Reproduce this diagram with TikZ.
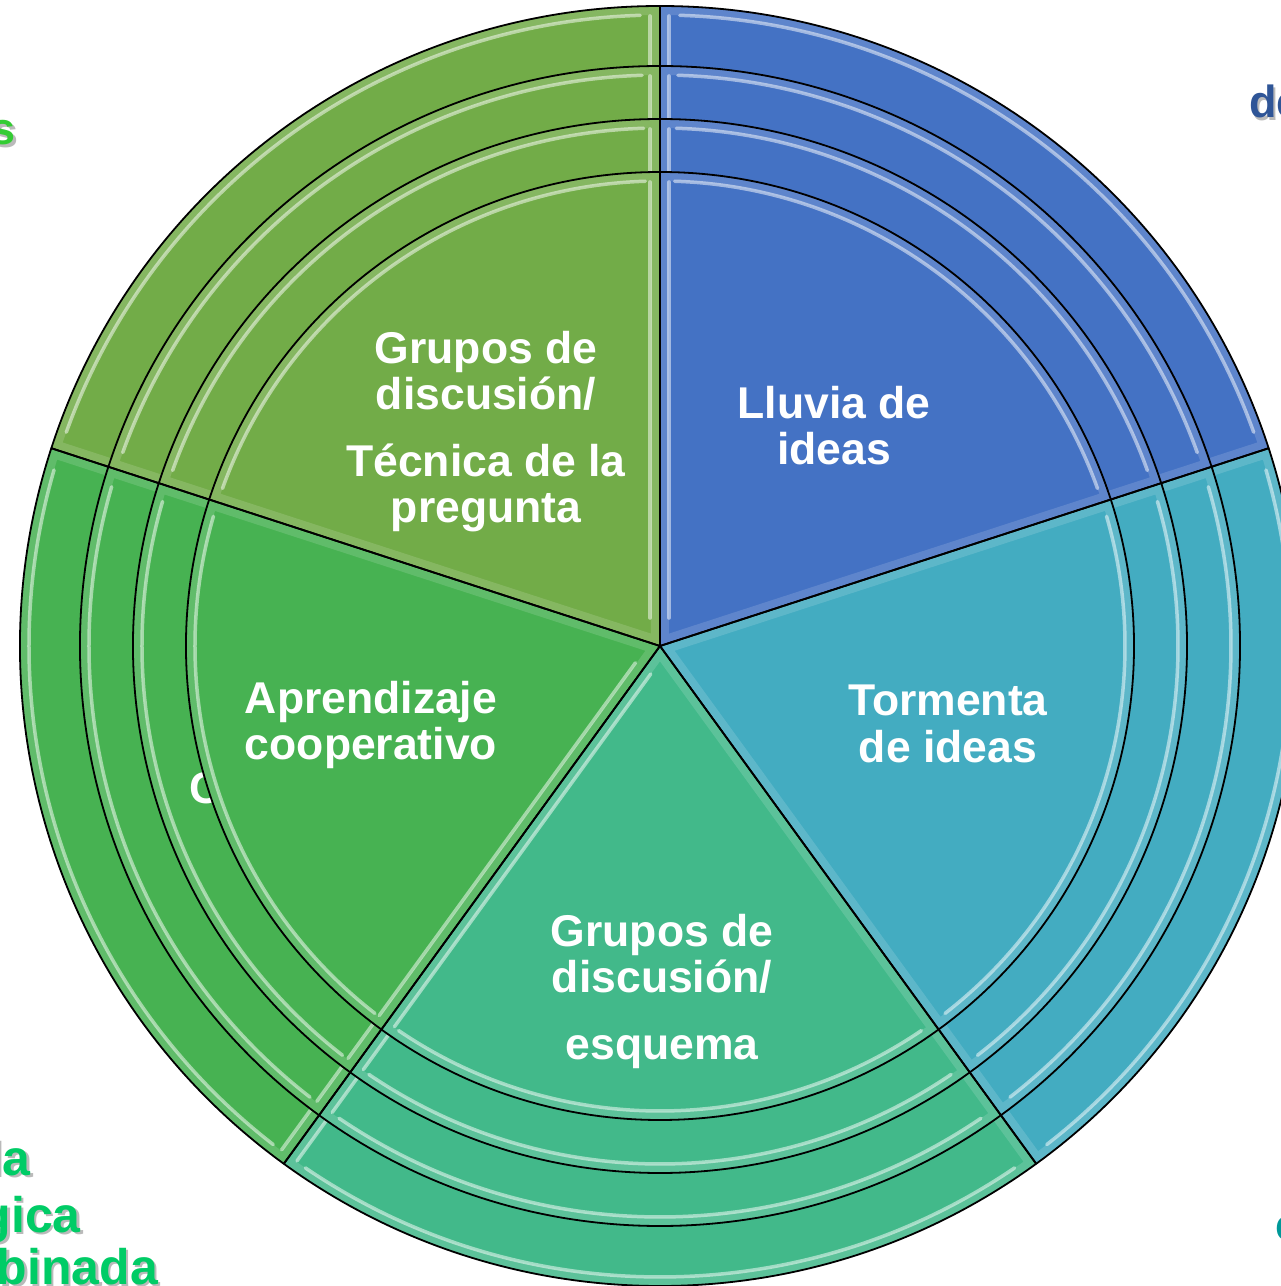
\documentclass[tikz,border=0pt]{standalone}
\usepackage{fontspec}
\setmainfont{Liberation Sans}
\definecolor{cblue}{RGB}{68,114,196}
\definecolor{cteal}{RGB}{67,172,193}
\definecolor{csea}{RGB}{66,185,138}
\definecolor{cgreen}{RGB}{71,178,82}
\definecolor{colive}{RGB}{114,172,72}
\definecolor{tgreen}{RGB}{0,204,102}
\definecolor{tlime}{RGB}{51,204,51}
\definecolor{tblue}{RGB}{47,85,151}
\definecolor{tteal}{RGB}{0,153,153}
\tikzset{
  lbl/.style={text=white,font=\bfseries\fontsize{44.5}{46.5}\selectfont,align=center,inner sep=0pt,anchor=north},
  hid/.style={text=white,font=\bfseries\fontsize{44.5}{46.5}\selectfont,inner sep=0pt},
  outtxt/.style={font=\bfseries\fontsize{45}{47}\selectfont,inner sep=0pt},
  bigtxt/.style={font=\bfseries\fontsize{50}{52}\selectfont,inner sep=0pt},
  shd/.style={text=black!45,opacity=.6},
  edge/.style={draw=black,line width=1.8pt,line join=round},
  stripe/.style={white,opacity=.5,line width=3.5pt,line cap=round},
}
\newcommand\pieslice[4]{%
  \fill[#4] (0,0) -- (#2:#1) arc[start angle=#2,end angle=#3,radius=#1] -- cycle;
  \begin{scope}
    \clip (0,0) -- (#2:#1) arc[start angle=#2,end angle=#3,radius=#1] -- cycle;
    \draw[white,opacity=.14,line width=18pt] (0,0) -- (#2:#1) arc[start angle=#2,end angle=#3,radius=#1] -- cycle;
    \draw[stripe] ({#2+1.8}:{#1-9}) arc[start angle={#2+1.8},end angle={#3-1.8},radius={#1-9}];
  \end{scope}}
\newcommand\pieedge[3]{%
  \draw[edge] (0,0) -- (#2:#1) arc[start angle=#2,end angle=#3,radius=#1] -- cycle;}
\newcommand\radstripe[3]{%
  \draw[stripe,rotate=#2] (28,#3) -- ({#1-10},#3);}
\newcommand\pielayer[1]{%
  \pieslice{#1}{18}{90}{cblue}
  \pieslice{#1}{90}{162}{colive}
  \pieslice{#1}{162}{234}{cgreen}
  \pieslice{#1}{234}{306}{csea}
  \pieslice{#1}{-54}{18}{cteal}
  \radstripe{#1}{90}{10}
  \radstripe{#1}{90}{-9}
  \radstripe{#1}{234}{-10}
  \radstripe{#1}{234}{9}
  \pieedge{#1}{18}{90}
  \pieedge{#1}{90}{162}
  \pieedge{#1}{162}{234}
  \pieedge{#1}{234}{306}
  \pieedge{#1}{-54}{18}}
\begin{document}
\begin{tikzpicture}[x=1pt,y=1pt]
\useasboundingbox (-660,-640) rectangle (621,646);
% outside partial texts
\node[outtxt,shd,anchor=base east] (s0) at (-641.5,498.5) {s};
\node[outtxt,text=tlime,anchor=base east] (s1) at (-644,501) {s};
\node[outtxt,shd,anchor=base west] (de0) at (591.5,525.5) {de};
\node[outtxt,text=tblue,anchor=base west] (de1) at (589,528) {de};
\node[bigtxt,shd,anchor=base east] (la0) at (-626.5,-531.5) {la};
\node[bigtxt,text=tgreen,anchor=base east] (la1) at (-629,-529) {la};
\node[bigtxt,shd,anchor=base east] (gi0) at (-576.5,-588.5) {gica};
\node[bigtxt,text=tgreen,anchor=base east] (gi1) at (-579,-586) {gica};
\node[bigtxt,shd,anchor=base east] (bi0) at (-499.5,-640.5) {binada};
\node[bigtxt,text=tgreen,anchor=base east] (bi1) at (-502,-638) {binada};
\node[outtxt,shd,anchor=base west] (c0) at (617.5,-596.5) {c};
\node[outtxt,text=tteal,anchor=base west] (c1) at (615,-594) {c};
% layered pies
\pielayer{640}
\node[hid] (hido) at (526,-209) {o};
\pielayer{580}
\pielayer{527}
\node[hid] (hidC) at (-454,-142) {C};
\pielayer{474}
% labels
\node[lbl] (olive) at (-174,315) {Grupos de\\discusión/\\[20pt]Técnica de la\\pregunta};
\node[lbl] (blue) at (174,260) {Lluvia de\\ideas};
\node[lbl] (teal) at (288,-39) {Tormenta\\de ideas};
\node[lbl] (sea) at (2,-268) {Grupos de\\discusión/\\[20pt]esquema};
\node[lbl] (green) at (-289,-35) {Aprendizaje\\cooperativo};
\end{tikzpicture}
\end{document}
